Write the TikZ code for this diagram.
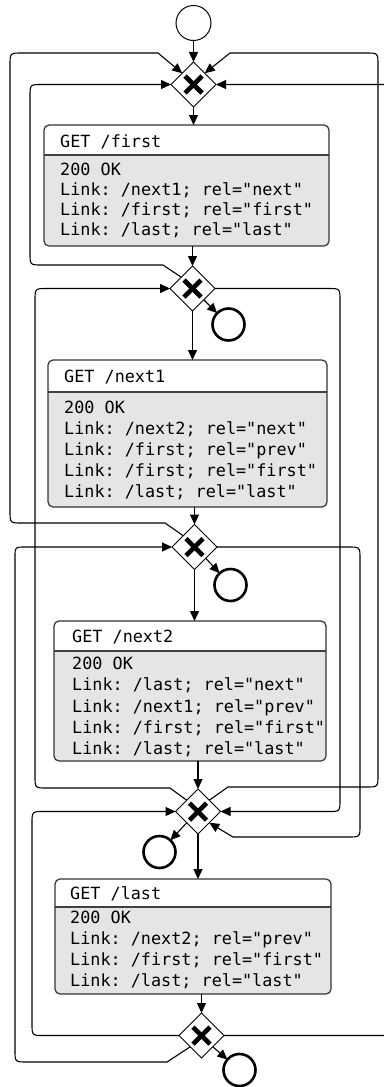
\documentclass[tikz,border=0pt]{standalone}
\usepackage{fontspec}
\setmonofont{DejaVu Sans Mono}
\usetikzlibrary{shapes.geometric,arrows.meta,calc,fit}

\tikzset{
  flow/.style={line width=1.1pt, -{Triangle[length=10pt,width=9pt]}},
  gate/.style={diamond, draw, line width=1pt, fill=white, minimum width=45pt,
    minimum height=45pt, inner sep=0pt, outer sep=0pt},
  startev/.style={circle, draw, line width=1pt, minimum size=35pt, inner sep=0pt, outer sep=0pt},
  endev/.style={circle, draw, line width=2.6pt, minimum size=32pt, inner sep=0pt, outer sep=0pt},
  panel/.style={fill=black!10, rounded corners=5pt, inner sep=0pt, outer sep=0pt},
  code/.style={anchor=base west, inner sep=0pt, font=\ttfamily\fontsize{16.8pt}{20pt}\selectfont},
}

% exclusive gateway: diamond with a bold cross, plus its edge midpoints
\newcommand\xorgate[2]{%
  \node[gate] (#1) at (#2) {};
  \draw[line width=4.6pt] ($(#1)+(-8.5,-8.5)$) -- ($(#1)+(8.5,8.5)$);
  \draw[line width=4.6pt] ($(#1)+(-8.5,8.5)$) -- ($(#1)+(8.5,-8.5)$);
  \coordinate (#1nw) at ($(#1.north)!0.5!(#1.west)$);
  \coordinate (#1ne) at ($(#1.north)!0.5!(#1.east)$);
  \coordinate (#1sw) at ($(#1.south)!0.5!(#1.west)$);
  \coordinate (#1se) at ($(#1.south)!0.5!(#1.east)$);
}

% request/response panel: name, x1, y1, x2, y2, header bottom
\newcommand\respanel[6]{%
  \node[panel, fit={(#2,#3) (#4,#5)}] (#1) {};
  \begin{scope}
    \clip[rounded corners=5pt] (#2,#3) rectangle (#4,#5);
    \fill[white] (#2,#3) rectangle (#4,#6);
  \end{scope}
  \draw[line width=2pt, black!75] (#2,#6) -- (#4,#6);
  \draw[line width=1.2pt, black!80, rounded corners=5pt] (#2,#3) rectangle (#4,#5);
}

\begin{document}
\begin{tikzpicture}[x=1pt,y=-1pt]
\useasboundingbox (0,0) rectangle (383,1087);

% start event
\node[startev] (s) at (193.5,23) {};

% gateways
\xorgate{g1}{193.5,84.5}
\xorgate{g2}{192.5,288.5}
\xorgate{g3}{194.5,547}
\xorgate{g4}{198,811.5}
\xorgate{g5}{201.5,1035.5}

% end events
\node[endev] (e2) at (228.5,324.5) {};
\node[endev] (e3) at (230.5,585) {};
\node[endev] (e4) at (159.5,852) {};
\node[endev] (e5) at (239.5,1070) {};

% panels
\respanel{b1}{44}{125}{329}{246}{155}
\node[code] at (60,147) {GET /first};
\node[code] at (60,175) {200 OK};
\node[code] at (60,195.5) {Link: /next1; rel="next"};
\node[code] at (60,215.5) {Link: /first; rel="first"};
\node[code] at (60,235.5) {Link: /last; rel="last"};

\respanel{b2}{48}{360}{327}{507}{392}
\node[code] at (64,382) {GET /next1};
\node[code] at (64,413) {200 OK};
\node[code] at (64,434) {Link: /next2; rel="next"};
\node[code] at (64,455) {Link: /first; rel="prev"};
\node[code] at (64,476) {Link: /first; rel="first"};
\node[code] at (64,497) {Link: /last; rel="last"};

\respanel{b3}{54}{621}{326}{761}{651}
\node[code] at (72,642) {GET /next2};
\node[code] at (72,669) {200 OK};
\node[code] at (72,690) {Link: /last; rel="next"};
\node[code] at (72,712) {Link: /next1; rel="prev"};
\node[code] at (72,733) {Link: /first; rel="first"};
\node[code] at (72,754) {Link: /last; rel="last"};

\respanel{b4}{55}{879}{331}{994}{907}
\node[code] at (70,899) {GET /last};
\node[code] at (70,923) {200 OK};
\node[code] at (70,944) {Link: /next2; rel="prev"};
\node[code] at (70,965) {Link: /first; rel="first"};
\node[code] at (70,986) {Link: /last; rel="last"};

% main sequence
\draw[flow] (s) -- (g1);
\draw[flow] (g1.south) -- (g1.south |- b1.north);
\draw[flow] (g2.north |- b1.south) -- (g2.north);
\draw[flow] (g2.south) -- (g2.south |- b2.north);
\draw[flow] (g3.north |- b2.south) -- (g3.north);
\draw[flow] (g3.south) -- (g3.south |- b3.north);
\draw[flow] (g4.north |- b3.south) -- (g4.north);
\draw[flow] (g4.south) -- (g4.south |- b4.north);
\draw[flow] (g5.north |- b4.south) -- (g5.north);

% leaving the walk
\draw[flow] (g2se) -- (e2);
\draw[flow] (g3se) -- (e3);
\draw[flow] (g4sw) -- (e4);
\draw[flow] (g5se) -- (e5);

% links back and forward
\draw[flow] (g3nw) -- (165,523) -- (22,523) .. controls (10,523) .. (10,511)
  -- (10,65) .. controls (10,53) .. (22,53) -- (158,53) -- (g1nw);
\draw[flow] (g2nw) -- (163,265) -- (42,265) .. controls (30,265) .. (30,253)
  -- (30,96.5) .. controls (30,84.5) .. (42,84.5) -- (g1.west);
\draw[flow] (g4nw) -- (170,788) -- (47,788) .. controls (35,788) .. (35,776)
  -- (35,300.5) .. controls (35,288.5) .. (47,288.5) -- (g2.west);
\draw[flow] (g4ne) -- (228,787) -- (366,787) .. controls (378,787) .. (378,775)
  -- (378,65) .. controls (378,53) .. (366,53) -- (230,53) -- (g1ne);
\draw[flow] (g5.east) -- (380,1035.5) .. controls (392,1035.5) .. (392,1023.5)
  -- (392,96.5) .. controls (392,84.5) .. (380,84.5) -- (g1.east);
\draw[flow] (g2.east) -- (328,288.5) .. controls (340,288.5) .. (340,300.5)
  -- (340,799.5) .. controls (340,811.5) .. (328,811.5) -- (g4.east);
\draw[flow] (g3.east) -- (348,547) .. controls (360,547) .. (360,559)
  -- (360,825) .. controls (360,837) .. (348,837) -- (233,837) -- (g4se);
\draw[flow] (g5sw) -- (167,1062) -- (27,1062) .. controls (15,1062) .. (15,1050)
  -- (15,557) .. controls (15,547) .. (25,547) -- (g3.west);
\draw[flow] (g5.west) -- (44,1035.5) .. controls (32,1035.5) .. (32,1023.5)
  -- (32,823.5) .. controls (32,811.5) .. (44,811.5) -- (g4.west);
\end{tikzpicture}
\end{document}
